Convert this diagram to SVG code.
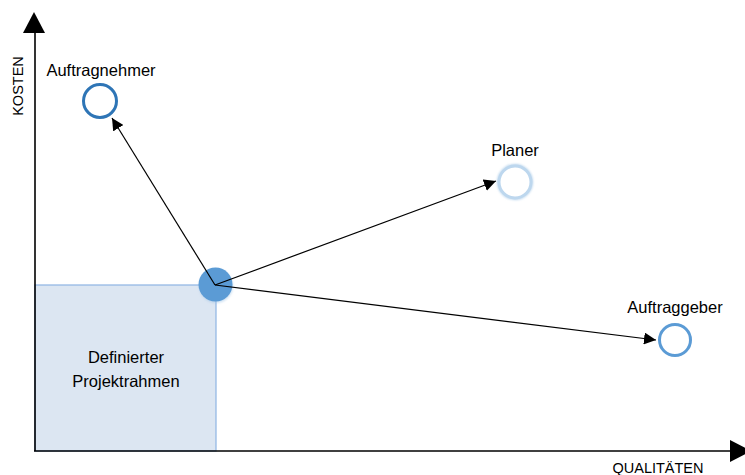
<svg xmlns="http://www.w3.org/2000/svg" width="745" height="475" viewBox="0 0 745 475">
<style>
text{font-family:"Liberation Sans",Arial,sans-serif;fill:#000}
.lbl{font-size:16.5px}
.ax{font-size:14.5px}
.conn{stroke:#000;stroke-width:1.2;fill:none;marker-end:url(#ah)}
.axis{stroke:#000;stroke-width:1.6;fill:none}
.ring{fill:#fff;stroke-width:3}
</style>
<defs>
<marker id="ah" viewBox="0 0 10 10" refX="10" refY="5" markerWidth="12" markerHeight="12" markerUnits="userSpaceOnUse" orient="auto">
<path d="M0,0 L10,5 L0,10 z" fill="#000"/>
</marker>
<filter id="soft" x="-50%" y="-50%" width="200%" height="200%">
<feGaussianBlur stdDeviation="0.8"/>
</filter>
</defs>
<rect width="745" height="475" fill="#fff"/>
<g id="projektrahmen">
<rect x="35" y="285" width="181" height="166" fill="#dce6f2" stroke="#8eb4e3" stroke-width="1.2"/>
<text class="lbl" x="126" y="363" text-anchor="middle">Definierter</text>
<text class="lbl" x="126" y="387" text-anchor="middle">Projektrahmen</text>
</g>
<g id="axes">
<line class="axis" x1="35" y1="451" x2="35" y2="32"/>
<path d="M34,12 L45,33 L23,33 z" fill="#000"/>
<line class="axis" x1="34" y1="451" x2="731" y2="451"/>
<path d="M751,451 L730,440 L730,462 z" fill="#000"/>
<text class="ax" transform="translate(23,86) rotate(-90)" text-anchor="middle">KOSTEN</text>
<text class="ax" x="658" y="473" text-anchor="middle">QUALITÄTEN</text>
</g>
<g id="zentrum">
<circle cx="216" cy="286" r="17" fill="#9dc3e6" opacity="0.5" filter="url(#soft)"/>
<circle cx="215.5" cy="284.5" r="17" fill="#5b9bd5"/>
</g>
<g id="connectors">
<line class="conn" x1="215" y1="285" x2="112" y2="118"/>
<line class="conn" x1="215" y1="285" x2="496" y2="181"/>
<line class="conn" x1="215" y1="285" x2="656" y2="340"/>
</g>
<g id="auftragnehmer">
<circle class="ring" cx="100" cy="101" r="16.5" stroke="#2e75b6"/>
<text class="lbl" x="101" y="76" text-anchor="middle">Auftragnehmer</text>
</g>
<g id="planer">
<circle cx="515" cy="182" r="16" fill="none" stroke="#bdd7ee" stroke-width="4" filter="url(#soft)"/>
<circle class="ring" cx="515" cy="182" r="16" stroke="#bdd7ee" stroke-width="2.5"/>
<text class="lbl" x="515" y="156" text-anchor="middle">Planer</text>
</g>
<g id="auftraggeber">
<circle class="ring" cx="675" cy="340" r="15.5" stroke="#5b9bd5"/>
<text class="lbl" x="675" y="313" text-anchor="middle">Auftraggeber</text>
</g>
</svg>
